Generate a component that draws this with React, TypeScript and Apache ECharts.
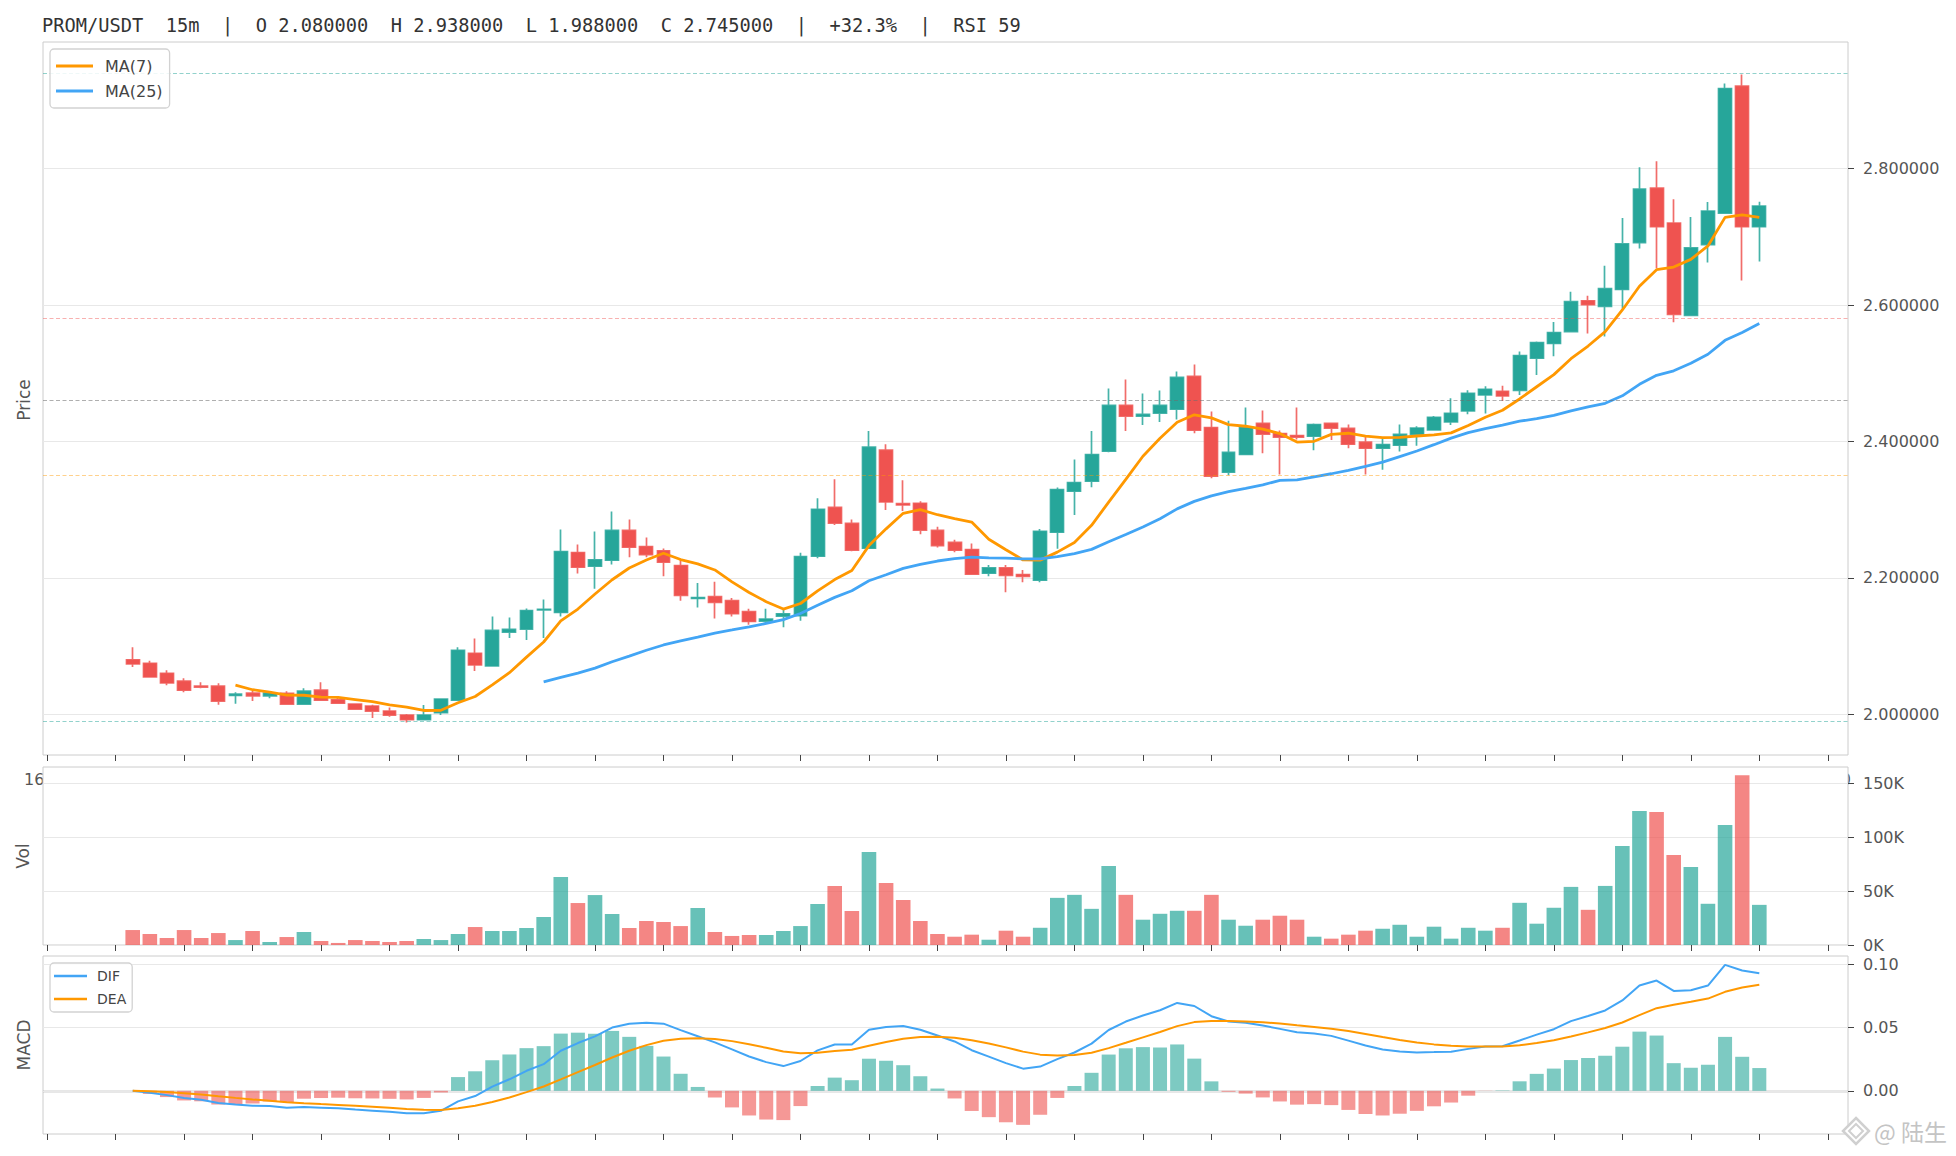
import React, { useEffect, useRef } from "react";
import * as echarts from "echarts";

// ---------- data ----------
const TITLE =
  "PROM/USDT  15m  |  O 2.080000  H 2.938000  L 1.988000  C 2.745000  |  +32.3%  |  RSI 59";

const OPEN = [
  2.08, 2.0749, 2.0603, 2.0487, 2.0414, 2.0414, 2.0277, 2.0311, 2.0272, 2.0307,
  2.0151, 2.0355, 2.0214, 2.0151, 2.0122, 2.0049, 1.999, 1.9922, 2.0025, 2.0209,
  2.0895, 2.071, 2.1207, 2.1251, 2.153, 2.1495, 2.2373, 2.2172, 2.226, 2.2696,
  2.2461, 2.2397, 2.2181, 2.17, 2.1725, 2.1667, 2.1505, 2.1368, 2.1441, 2.1446,
  2.2319, 2.3034, 2.2799, 2.2436, 2.3873, 2.3088, 2.3093, 2.2696, 2.252, 2.2417,
  2.2069, 2.2147, 2.2049, 2.1966, 2.267, 2.3271, 2.3418, 2.3858, 2.4528, 2.4372,
  2.4416, 2.4474, 2.4954, 2.4205, 2.355, 2.3809, 2.4264, 2.4117, 2.4088, 2.4078,
  2.4264, 2.4191, 2.399, 2.3902, 2.3946, 2.4107, 2.417, 2.4287, 2.4448, 2.4681,
  2.4735, 2.475, 2.5221, 2.5436, 2.5611, 2.6063, 2.5981, 2.6229, 2.6915, 2.7713,
  2.7202, 2.5849, 2.6886, 2.7348, 2.9207, 2.7148,
];
const CLOSE = [
  2.074, 2.055, 2.0462, 2.0355, 2.04, 2.0195, 2.0296, 2.0272, 2.0311, 2.0151,
  2.0341, 2.0209, 2.0165, 2.0078, 2.0049, 1.999, 1.9922, 1.999, 2.0224, 2.0939,
  2.0725, 2.1231, 2.1246, 2.1523, 2.154, 2.2387, 2.2157, 2.2265, 2.2696, 2.2451,
  2.2343, 2.223, 2.1745, 2.1712, 2.1642, 2.1475, 2.1363, 2.1397, 2.1475, 2.2314,
  2.3005, 2.2804, 2.2407, 2.3917, 2.3113, 2.3069, 2.2701, 2.2475, 2.2407, 2.2054,
  2.2147, 2.2039, 2.2024, 2.2683, 2.3296, 2.3398, 2.3809, 2.4528, 2.4372, 2.4396,
  2.4528, 2.4939, 2.4166, 2.3491, 2.3839, 2.4205, 2.4108, 2.4064, 2.4064, 2.4249,
  2.4196, 2.3961, 2.3902, 2.3956, 2.4103, 2.4196, 2.4355, 2.4414, 2.4706, 2.4764,
  2.4667, 2.526, 2.545, 2.5596, 2.6049, 2.6005, 2.6239, 2.6895, 2.7698, 2.7148,
  2.5864, 2.6837, 2.7377, 2.9173, 2.7148, 2.745,
];
const LOW = [
  2.0696, 2.0548, 2.0428, 2.0326, 2.0385, 2.0141, 2.0156, 2.0195, 2.0238, 2.0151,
  2.0151, 2.0195, 2.0156, 2.0078, 1.9947, 1.9966, 1.988, 1.9922, 1.999, 2.0209,
  2.0637, 2.071, 2.1119, 2.109, 2.1119, 2.1436, 2.2064, 2.1843, 2.2196, 2.2304,
  2.2304, 2.2024, 2.1667, 2.1568, 2.1407, 2.1436, 2.1314, 2.1338, 2.1279, 2.1373,
  2.2289, 2.2775, 2.2392, 2.2436, 2.2995, 2.298, 2.2642, 2.2446, 2.2377, 2.2054,
  2.2024, 2.179, 2.1936, 2.1936, 2.2428, 2.2922, 2.333, 2.3843, 2.4152, 2.424,
  2.4284, 2.4323, 2.4122, 2.3462, 2.3506, 2.38, 2.3829, 2.3516, 2.4029, 2.3873,
  2.402, 2.3902, 2.3516, 2.3584, 2.3853, 2.3937, 2.4156, 2.4243, 2.4399, 2.4409,
  2.4594, 2.4681, 2.4973, 2.5251, 2.5596, 2.5582, 2.5538, 2.5947, 2.6827, 2.654,
  2.5747, 2.5835, 2.6623, 2.7348, 2.636, 2.6638,
];
const HIGH = [
  2.0983, 2.0788, 2.0647, 2.053, 2.0472, 2.0457, 2.0326, 2.0345, 2.0336, 2.0341,
  2.0385, 2.0472, 2.0243, 2.0165, 2.0141, 2.0103, 2.0005, 2.0136, 2.0238, 2.0983,
  2.1114, 2.1436, 2.1421, 2.1552, 2.1684, 2.2711, 2.249, 2.2681, 2.2975, 2.2858,
  2.2593, 2.2431, 2.227, 2.1926, 2.1946, 2.1706, 2.1549, 2.1549, 2.1549, 2.2368,
  2.3167, 2.3446, 2.2858, 2.4152, 2.3961, 2.3431, 2.3123, 2.275, 2.2559, 2.2505,
  2.2189, 2.2191, 2.2117, 2.2718, 2.3325, 2.3736, 2.4152, 2.4778, 2.491, 2.4704,
  2.4748, 2.5027, 2.513, 2.444, 2.4303, 2.4499, 2.4455, 2.4161, 2.4499, 2.4264,
  2.4279, 2.4249, 2.4078, 2.4049, 2.4249, 2.4224, 2.4375, 2.4633, 2.475, 2.4808,
  2.4818, 2.5319, 2.5465, 2.5752, 2.6195, 2.6136, 2.6574, 2.7275, 2.8019, 2.8107,
  2.7552, 2.729, 2.7509, 2.9246, 2.938, 2.7513,
];
const VOLUME = [
  13900, 10200, 6500, 13900, 6500, 11100, 4600, 13000, 2800, 7400,
  12100, 3700, 1900, 4600, 3700, 2800, 3700, 5600, 4600, 10200,
  16700, 13000, 13000, 15800, 26000, 63200, 39000, 46400, 28800, 15800,
  22300, 21400, 17600, 34400, 12100, 8400, 9300, 9300, 13000, 17600,
  38100, 54800, 31600, 86400, 57600, 41800, 22300, 10200, 7700, 9600,
  4900, 13300, 7700, 16000, 43800, 46600, 33600, 73500, 46600, 23500,
  29000, 31800, 31800, 46600, 23500, 17900, 23500, 27200, 23500, 7700,
  5900, 9600, 13300, 15100, 18800, 7700, 17000, 5900, 16000, 13300,
  16000, 39200, 19800, 34600, 54000, 32700, 54900, 92000, 124400, 123500,
  83600, 72500, 38300, 111400, 157700, 37300,
];

// Fibonacci levels drawn as dashed lines (0, 0.382, 0.5, 0.618, 1)
const FIB_LEVELS = [2.938, 2.5751, 2.463, 2.3509, 1.988];
const PRICE_TICKS = [2.0, 2.2, 2.4, 2.6, 2.8];
const VOL_TICKS = [0, 50000, 100000, 150000];
const MACD_TICKS = [0, 0.05, 0.1];
const TIME_TICKS = [
  -5, -1, 3, 7, 11, 15, 19, 23, 27, 31, 35, 39, 43, 47, 51, 55, 59, 63, 67, 71,
  75, 79, 83, 87, 91, 95, 99,
];
const TIME_LABELS = [
  "16:00", "17:00", "18:00", "19:00", "20:00", "21:00", "22:00", "23:00",
  "00:00", "01:00", "02:00", "03:00", "04:00", "05:00", "06:00", "07:00",
  "08:00", "09:00", "10:00", "11:00", "12:00", "13:00", "14:00", "15:00",
  "16:00", "17:00", "18:00",
];

// ---------- styles ----------
const UP = "#26a69a";
const DOWN = "#ef5350";
const FIB_COLORS = [
  "rgba(38,166,154,0.5)",
  "rgba(239,83,80,0.45)",
  "rgba(110,110,110,0.55)",
  "rgba(255,152,0,0.45)",
  "rgba(38,166,154,0.5)",
];
const FONT = "DejaVu Sans";
const LABEL_COLOR = "#555";
const GRID_LINE = "#e8e8e8";
const BORDER = "#cccccc";
const X_MIN = -5.24;
const X_MAX = 100.18;

// ---------- derived indicators ----------
function movingAverage(values: number[], n: number): (number | null)[] {
  return values.map((_, i) => {
    if (i < n - 1) return null;
    let s = 0;
    for (let k = i - n + 1; k <= i; k++) s += values[k];
    return s / n;
  });
}
function ema(values: number[], n: number): number[] {
  const k = 2 / (n + 1);
  const out: number[] = [];
  values.forEach((v, i) => out.push(i === 0 ? v : out[i - 1] + k * (v - out[i - 1])));
  return out;
}

function buildOption() {
  const ma7 = movingAverage(CLOSE, 7);
  const ma25 = movingAverage(CLOSE, 25);
  const e12 = ema(CLOSE, 12);
  const e26 = ema(CLOSE, 26);
  const dif = e12.map((v, i) => v - e26[i]);
  const dea = ema(dif, 9);
  const hist = dif.map((v, i) => 2 * (v - dea[i]));

  const toPairs = (arr: (number | null)[]) =>
    arr.map((v, i) => (v == null ? null : [i, v])).filter((p) => p != null);

  const timeLabel = (v: number) => {
    const idx = TIME_TICKS.indexOf(Math.round(v));
    return idx >= 0 ? TIME_LABELS[idx] : "";
  };

  const xAxis = (gridIndex: number, showLabel: boolean, z: number) => ({
    type: "value",
    gridIndex,
    min: X_MIN,
    max: X_MAX,
    z,
    axisLine: { show: false, onZero: false },
    axisTick: {
      show: true,
      customValues: TIME_TICKS,
      length: 6,
      lineStyle: { color: "#444", width: 1 },
    },
    axisLabel: {
      show: showLabel,
      customValues: TIME_TICKS,
      formatter: timeLabel,
      margin: 16,
      fontSize: 16,
      fontFamily: FONT,
      color: LABEL_COLOR,
    },
    splitLine: { show: false },
  });

  const yAxis = (
    gridIndex: number,
    min: number,
    max: number,
    ticks: number[],
    fmt: (v: number) => string,
    z: number,
    interval?: number
  ) => ({
    type: "value",
    gridIndex,
    position: "right",
    min,
    max,
    interval,
    z,
    axisLine: { show: false, onZero: false },
    axisTick: {
      show: true,
      customValues: ticks,
      length: 6,
      lineStyle: { color: "#444", width: 1 },
    },
    axisLabel: {
      customValues: ticks,
      formatter: fmt,
      margin: 15,
      fontSize: 16,
      fontFamily: FONT,
      color: LABEL_COLOR,
      showMinLabel: true,
      showMaxLabel: true,
    },
    splitLine: { show: true, lineStyle: { color: GRID_LINE, width: 1 } },
  });

  const gridBase = {
    left: 43,
    width: 1805,
    show: true,
    borderColor: BORDER,
    borderWidth: 1,
    backgroundColor: "#ffffff",
  };

  const axisName = (text: string, x: number, y: number) => ({
    type: "text",
    x,
    y,
    rotation: Math.PI / 2,
    z: 50,
    style: {
      text,
      fontSize: 17,
      fontFamily: FONT,
      fill: LABEL_COLOR,
      align: "center",
      verticalAlign: "middle",
      textAlign: "center",
      textVerticalAlign: "middle",
    },
  });

  return {
    animation: false,
    backgroundColor: "#ffffff",
    textStyle: { fontFamily: FONT },
    grid: [
      { ...gridBase, top: 42, height: 713, z: 0 },
      { ...gridBase, top: 767, height: 178, z: 5 },
      { ...gridBase, top: 956, height: 178, z: 5 },
    ],
    xAxis: [xAxis(0, true, 0), xAxis(1, false, 6), xAxis(2, false, 6)],
    yAxis: [
      yAxis(0, 1.9405, 2.9855, PRICE_TICKS, (v) => v.toFixed(6), 0),
      yAxis(1, 0, 165400, VOL_TICKS, (v) => `${Math.round(v / 1000)}K`, 6, 50000),
      yAxis(2, -0.0341, 0.1065, MACD_TICKS, (v) => v.toFixed(2), 6),
    ],
    legend: [
      {
        data: ["MA(7)", "MA(25)"],
        orient: "vertical",
        left: 50,
        top: 49,
        padding: [7, 7, 7, 6],
        itemGap: 5,
        itemWidth: 37,
        itemHeight: 3,
        icon: "rect",
        selectedMode: false,
        z: 30,
        backgroundColor: "rgba(255,255,255,0.85)",
        borderColor: "#d2d2d2",
        borderWidth: 1.3,
        borderRadius: 4,
        textStyle: {
          fontSize: 16,
          fontFamily: FONT,
          color: "#444",
          lineHeight: 20,
          padding: [0, 0, 0, 7],
        },
      },
      {
        data: ["DIF", "DEA"],
        orient: "vertical",
        left: 50,
        top: 963,
        padding: [4, 6, 4, 4],
        itemGap: 5,
        itemWidth: 33,
        itemHeight: 2.5,
        icon: "rect",
        selectedMode: false,
        z: 30,
        backgroundColor: "rgba(255,255,255,0.85)",
        borderColor: "#d2d2d2",
        borderWidth: 1.3,
        borderRadius: 4,
        textStyle: {
          fontSize: 14,
          fontFamily: FONT,
          color: "#444",
          lineHeight: 18,
          padding: [0, 0, 0, 5],
        },
      },
    ],
    graphic: [
      {
        type: "text",
        x: 42,
        y: 25,
        z: 50,
        style: {
          text: TITLE,
          fontSize: 18.7,
          fontFamily: "DejaVu Sans Mono",
          fill: "#333",
          verticalAlign: "middle",
          textVerticalAlign: "middle",
        },
      },
      axisName("Price", 24, 400),
      axisName("Vol", 23, 856),
      axisName("MACD", 24, 1045),
      {
        type: "polygon",
        z: 60,
        shape: { points: [[1856, 1118], [1869, 1131], [1856, 1144], [1843, 1131]] },
        style: { fill: "#ffffff", stroke: "#d0d0d0", lineWidth: 2.5 },
      },
      {
        type: "polygon",
        z: 61,
        shape: { points: [[1856, 1124], [1863, 1131], [1856, 1138], [1849, 1131]] },
        style: { fill: "#ffffff", stroke: "#d0d0d0", lineWidth: 2 },
      },
      {
        type: "text",
        x: 1874,
        y: 1131,
        z: 60,
        style: {
          text: "@ 陆生",
          fontSize: 23,
          fontFamily: "Noto Sans CJK SC",
          fill: "#c4c4c4",
          verticalAlign: "middle",
          textVerticalAlign: "middle",
        },
      },
    ],
    series: [
      {
        type: "candlestick",
        name: "PROM/USDT",
        xAxisIndex: 0,
        yAxisIndex: 0,
        barWidth: 13.4,
        data: OPEN.map((o, i) => [i, o, CLOSE[i], LOW[i], HIGH[i]]),
        itemStyle: {
          color: UP,
          color0: DOWN,
          borderColor: "rgba(38,166,154,0.85)",
          borderColor0: "rgba(239,83,80,0.85)",
          borderWidth: 1.7,
        },
        markLine: {
          silent: true,
          symbol: ["none", "none"],
          label: { show: false },
          animation: false,
          data: FIB_LEVELS.map((y, i) => ({
            yAxis: y,
            lineStyle: { color: FIB_COLORS[i], type: [4, 2.5], width: 1.1 },
          })),
        },
      },
      {
        type: "line",
        name: "MA(7)",
        xAxisIndex: 0,
        yAxisIndex: 0,
        data: toPairs(ma7),
        showSymbol: false,
        color: "#ff9800",
        itemStyle: { color: "#ff9800" },
        lineStyle: { color: "#ff9800", width: 2.8 },
        z: 3,
      },
      {
        type: "line",
        name: "MA(25)",
        xAxisIndex: 0,
        yAxisIndex: 0,
        data: toPairs(ma25),
        showSymbol: false,
        color: "#42a5f5",
        itemStyle: { color: "#42a5f5" },
        lineStyle: { color: "#42a5f5", width: 2.8 },
        z: 3,
      },
      {
        type: "bar",
        name: "Vol",
        xAxisIndex: 1,
        yAxisIndex: 1,
        barWidth: 14.6,
        z: 10,
        data: VOLUME.map((v, i) => ({
          value: [i, v],
          itemStyle: {
            color: CLOSE[i] >= OPEN[i] ? "rgba(38,166,154,0.7)" : "rgba(239,83,80,0.7)",
          },
        })),
      },
      {
        type: "bar",
        name: "MACD",
        xAxisIndex: 2,
        yAxisIndex: 2,
        barWidth: 14,
        z: 10,
        data: hist.map((v, i) => ({
          value: [i, v],
          itemStyle: {
            color: v >= 0 ? "rgba(38,166,154,0.6)" : "rgba(239,83,80,0.6)",
          },
        })),
        markLine: {
          silent: true,
          symbol: ["none", "none"],
          label: { show: false },
          animation: false,
          data: [{ yAxis: 0 }],
          lineStyle: { color: "#9e9e9e", type: "solid", width: 1.3 },
        },
      },
      {
        type: "line",
        name: "DIF",
        xAxisIndex: 2,
        yAxisIndex: 2,
        data: toPairs(dif),
        showSymbol: false,
        color: "#42a5f5",
        itemStyle: { color: "#42a5f5" },
        lineStyle: { color: "#42a5f5", width: 2 },
        z: 11,
      },
      {
        type: "line",
        name: "DEA",
        xAxisIndex: 2,
        yAxisIndex: 2,
        data: toPairs(dea),
        showSymbol: false,
        color: "#ff9800",
        itemStyle: { color: "#ff9800" },
        lineStyle: { color: "#ff9800", width: 2 },
        z: 11,
      },
    ],
  };
}

export default function App() {
  const ref = useRef<HTMLDivElement>(null);
  useEffect(() => {
    if (!ref.current) return;
    const chart = echarts.init(ref.current, null, { renderer: "svg" });
    chart.setOption(buildOption() as any);
    return () => chart.dispose();
  }, []);
  return (
    <div
      ref={ref}
      style={{ position: "absolute", left: 0, top: 0, width: 1956, height: 1156 }}
    />
  );
}
